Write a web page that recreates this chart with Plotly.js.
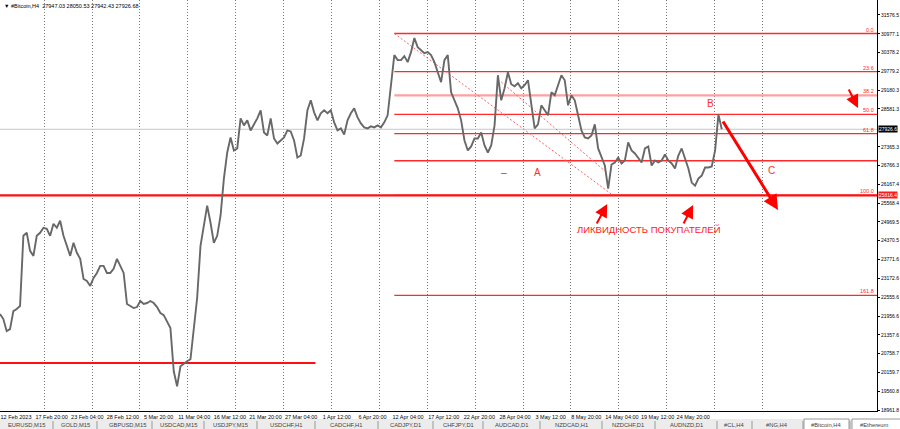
<!DOCTYPE html>
<html>
<head>
<meta charset="utf-8">
<script src="https://cdn.plot.ly/plotly-3.0.1.min.js"></script>
<style>html,body{margin:0;padding:0;background:#fff;}#chart{width:900px;height:429px;}</style>
</head>
<body>
<div id="chart"></div>
<script>
const seriesStart = '2023-02-12T12:00:00Z';
const seriesStepHours = 12;
const closePrices = [
22025,21865,21480,21545,22121,22186,22282,24525,24621,24044,
23884,24525,24621,24782,24750,24525,24910,24782,25006,24525,
24205,23884,24301,23981,23789,23147,23083,22923,23179,23339,
23564,23564,23339,23339,23468,23788,23564,23339,22346,22282,
22218,22250,22442,22346,22378,22442,22378,22250,22057,21993,
21770,21577,20199,19718,20359,20455,20519,20583,21641,22538,
24205,24846,25487,24942,24301,24525,25166,26352,27186,27666,
27250,27314,28276,28051,28211,27890,28083,28276,28532,27826,
27730,28276,27634,27474,27570,27666,27890,27858,27570,27025,
27089,27634,28532,28852,28468,28211,28436,28532,28436,28532,
28147,27890,27955,27762,28211,28436,28596,28307,28115,27987,
27955,28019,27987,28051,27987,28147,28372,29237,30294,30134,
30134,30262,30070,30390,30839,30551,30454,30358,30390,30294,
30070,29749,29429,30134,30294,29108,28852,28596,28211,27570,
27250,27378,27634,27634,27826,27410,27186,27410,28051,29653,
28852,29237,29749,29365,29301,29397,29237,29333,29493,28724,
27955,28083,28692,28532,28372,29108,29012,29333,29653,29493,
28692,29012,28852,28372,27890,27666,27634,27730,28083,27314,
27058,26770,26032,26802,26866,27025,26834,26930,27506,27250,
27154,27025,26866,27314,27378,26770,26930,26866,26930,27122,
26930,26834,26673,27089,27314,26994,26673,26224,26128,26352,
26448,26705,26705,26737,27250,28400,27927
];
const lastPrice = 27926.68;
const headerText = '▼ #Bitcoin,H4  27947.03 28050.53 27942.43 27926.68';

const timeTickVals = ['2023-02-12 12:00','2023-02-17 20:00','2023-02-23 04:00','2023-02-28 12:00','2023-03-05 20:00','2023-03-11 04:00','2023-03-16 12:00','2023-03-21 20:00','2023-03-27 04:00','2023-04-01 12:00','2023-04-06 20:00','2023-04-12 04:00','2023-04-17 12:00','2023-04-22 20:00','2023-04-28 04:00','2023-05-03 12:00','2023-05-08 20:00','2023-05-14 04:00','2023-05-19 12:00','2023-05-24 20:00'];
const timeTickText = ['12 Feb 2023','17 Feb 20:00','23 Feb 04:00','28 Feb 12:00','5 Mar 20:00','11 Mar 04:00','16 Mar 12:00','21 Mar 20:00','27 Mar 04:00','1 Apr 12:00','6 Apr 20:00','12 Apr 04:00','17 Apr 12:00','22 Apr 20:00','28 Apr 04:00','3 May 12:00','8 May 20:00','14 May 04:00','19 May 12:00','24 May 20:00'];
const gridTimes = ['2023-02-19 02:30','2023-02-26 06:30','2023-03-05 10:30','2023-03-12 14:30','2023-03-19 18:30','2023-03-26 22:30','2023-04-03 02:30','2023-04-10 06:30','2023-04-17 10:30','2023-04-24 14:30','2023-05-01 18:30','2023-05-08 22:30','2023-05-16 02:30','2023-05-23 06:30','2023-05-30 10:30','2023-06-06 14:30'];
const priceTickVals = [18961.8,19560.8,20159.7,20758.7,21357.6,21956.6,22555.6,23172.6,23771.6,24370.5,24969.5,25568.4,26167.4,26766.3,27365.3,28581.3,29180.3,29779.2,30378.2,30977.1,31576.5];

// Fibonacci retracement
const fibStartTime = '2023-04-12 12:00';
const fibHigh = 30985;
const fibLow = 25816;
const fibLevels = [0, 23.6, 38.2, 50.0, 61.8, 78.6, 100.0, 161.8];
const fibLabels = ['0.0','23.6','38.2','50.0','61.8','','100.0','161.8'];
const fibEndTime = '2023-05-15 06:00';

// other drawn objects (time, price)
const supportPrice = 25816;
const supportLabel = '25816.4';
const lowLinePrice = 20463;
const lowLineEnd = '2023-03-31 16:48';
const channelTimes = ['2023-04-28 12:00','2023-05-14 08:36'];
const channelPrices = [29437, 26530];
const textMarks = [
  {t:'2023-04-28 23:00', p:26562, s:'–', c:'#3050ff'},
  {t:'2023-05-03 21:00', p:26562, s:'A', c:'#ff3030'},
  {t:'2023-05-29 18:00', p:28734, s:'B', c:'#ff3030'},
  {t:'2023-06-07 21:00', p:26626, s:'C', c:'#ff3030'},
  {t:'2023-05-20 15:20', p:24742, s:'ЛИКВИДНОСТЬ ПОКУПАТЕЛЕЙ', c:'#ff2020'}
];
const arrowMarks = [
  {t0:'2023-05-31 13:00', p0:28223, t1:'2023-06-08 22:00', p1:25349, w:3, s:1},
  {t0:'2023-05-12 16:00', p0:24870, t1:'2023-05-14 08:40', p1:25541, w:2, s:1.3},
  {t0:'2023-05-25 16:00', p0:24870, t1:'2023-05-27 05:10', p1:25509, w:2, s:1.3},
  {t0:'2023-06-19 09:20', p0:29245, t1:'2023-06-20 21:20', p1:28606, w:2, s:1.3}
];
const tabNames = ['EURUSD,M15','GOLD,M15','GBPUSD,M15','USDCAD,M15','USDJPY,M15','USDCHF,H1','CADCHF,H1','CADJPY,D1','CHFJPY,D1','AUDCAD,D1','NZDCAD,H1','NZDCHF,D1','AUDNZD,D1','#CL,H4','#NG,H4','#Bitcoin,H4','#Ethereum'];

// ---- layout constants ----
const xStart = '2023-02-12 12:00';
const xEnd = '2023-06-23 17:24';
const yRange = [18930, 32055];
const plotW = 877, plotH = 411;
const tabCenters = [26,75,127,178,230,286,346,405,458,512,571,628,686,734,777,826,874];
const tabSeps = [53,97,152,204,257,315,378,433,483,540,602,655,717,752,803,850];

// time index for the price series
const t0 = Date.parse(seriesStart);
const priceTimes = closePrices.map((_, i) =>
  new Date(t0 + i * seriesStepHours * 3600000).toISOString().slice(0,16).replace('T',' '));

const traces = [];
traces.push({x:[xStart,xEnd], y:[lastPrice,lastPrice], mode:'lines', line:{color:'#c8c8c8', width:1}, hoverinfo:'skip'});
fibLevels.forEach(l => {
  const p = fibHigh - (fibHigh - fibLow) * l / 100;
  const pink = (l === 38.2);
  traces.push({x:[fibStartTime,xEnd], y:[p,p], mode:'lines',
    line:{color: pink ? '#ffa0a0' : '#ff2a2a', width: pink ? 2.2 : 1.3}, hoverinfo:'skip'});
});
traces.push({x:[xStart,xEnd], y:[supportPrice,supportPrice], mode:'lines', line:{color:'#ff1010', width:2.2}, hoverinfo:'skip'});
traces.push({x:[xStart,lowLineEnd], y:[lowLinePrice,lowLinePrice], mode:'lines', line:{color:'#ff1010', width:2.2}, hoverinfo:'skip'});
traces.push({x:[fibStartTime,fibEndTime], y:[fibHigh,fibLow], mode:'lines', line:{color:'#ff6060', width:1, dash:'2px,2px'}, hoverinfo:'skip'});
traces.push({x:channelTimes, y:channelPrices, mode:'lines', line:{color:'#ff6060', width:1, dash:'2px,2px'}, hoverinfo:'skip'});
traces.push({x:priceTimes, y:closePrices, mode:'lines', line:{color:'#686868', width:1.9}, hoverinfo:'skip'});
traces.push({x:[priceTimes[0]], y:[closePrices[0]], xaxis:'x2', mode:'markers', marker:{opacity:0}, hoverinfo:'skip'});

const annotations = [];
annotations.push({xref:'paper', yref:'paper', x:2/plotW, y:1 - 1/plotH, xanchor:'left', yanchor:'top', text:headerText, showarrow:false, font:{size:5.5, color:'#000'}});
fibLevels.forEach((l, i) => {
  if (!fibLabels[i]) return;
  const p = fibHigh - (fibHigh - fibLow) * l / 100;
  annotations.push({x:xEnd, y:p, xref:'x', yref:'y', xanchor:'right', yanchor:'bottom', text:fibLabels[i], showarrow:false, font:{size:5.5, color:'#ff2a2a'}, xshift:-1, yshift:-1});
});
textMarks.forEach(m => annotations.push({x:m.t, y:m.p, xref:'x', yref:'y', xanchor:'center', yanchor:'middle', text:m.s, showarrow:false, font:{size: m.s.length > 2 ? 9.5 : 10, color:m.c}}));
arrowMarks.forEach(a => annotations.push({x:a.t1, y:a.p1, ax:a.t0, ay:a.p0, xref:'x', yref:'y', axref:'x', ayref:'y', text:'', showarrow:true, arrowhead:2, arrowsize:a.s, arrowwidth:a.w, arrowcolor:'#ff0000'}));
annotations.push({xref:'paper', yref:'y', x:1, y:lastPrice, xanchor:'left', yanchor:'middle', text:'27926.6', showarrow:false, bgcolor:'#000', font:{size:5, color:'#fff'}, borderpad:0, xshift:1});
annotations.push({xref:'paper', yref:'y', x:1, y:supportPrice, xanchor:'left', yanchor:'middle', text:supportLabel, showarrow:false, bgcolor:'#ff1a1a', font:{size:5, color:'#fff'}, borderpad:0, xshift:1});
const py = v => (plotH - v) / plotH;
tabNames.forEach((n, i) => annotations.push({xref:'paper', yref:'paper', x:tabCenters[i]/plotW, y:py(425), xanchor:'center', yanchor:'middle', text:n, showarrow:false, font:{size:5.8, color:'#444'}}));

const shapes = [];
shapes.push({type:'rect', xref:'paper', yref:'paper', x0:0, x1:900/plotW, y0:py(419), y1:py(432), fillcolor:'#ececec', line:{width:0}, layer:'below'});
shapes.push({type:'rect', xref:'paper', yref:'paper', x0:804/plotW, x1:849/plotW, y0:py(419), y1:py(432), fillcolor:'#ffffff', line:{color:'#999', width:1}, layer:'below'});
shapes.push({type:'rect', xref:'paper', yref:'paper', x0:852/plotW, x1:902/plotW, y0:py(419), y1:py(432), fillcolor:'#ffffff', line:{color:'#999', width:1}, layer:'below'});
tabSeps.forEach(s => shapes.push({type:'line', xref:'paper', yref:'paper', x0:s/plotW, x1:s/plotW, y0:py(421), y1:py(430), line:{color:'#999', width:1}}));

const font = {family:'Liberation Sans, Arial, sans-serif', size:6, color:'#000'};
const layout = {
  width:900, height:429, margin:{l:0, r:23, t:0, b:18, pad:0},
  paper_bgcolor:'#fff', plot_bgcolor:'#fff', showlegend:false, font:font,
  xaxis:{type:'date', range:[xStart,xEnd], tickmode:'array', tickvals:timeTickVals, ticktext:timeTickText,
    tickfont:{size:5.5, color:'#000'}, ticklabelshift:16, ticks:'', showgrid:false, zeroline:false,
    showline:true, linecolor:'#000', linewidth:1, fixedrange:true, automargin:false},
  xaxis2:{type:'date', overlaying:'x', range:[xStart,xEnd], tickmode:'array', tickvals:gridTimes,
    showticklabels:false, ticks:'', showgrid:true, griddash:'1px,2px', gridcolor:'#777', gridwidth:1,
    zeroline:false, showline:false, fixedrange:true, automargin:false},
  yaxis:{side:'right', range:yRange, tickmode:'array', tickvals:priceTickVals, ticktext:priceTickVals.map(v => v.toFixed(1)),
    tickfont:{size:5, color:'#000'}, ticks:'outside', ticklen:2, tickcolor:'#000', ticklabelstandoff:0, showgrid:false, zeroline:false,
    showline:true, linecolor:'#000', linewidth:1, fixedrange:true, automargin:false},
  annotations:annotations, shapes:shapes
};
Plotly.newPlot('chart', traces, layout, {staticPlot:true, displayModeBar:false});
</script>
</body>
</html>
